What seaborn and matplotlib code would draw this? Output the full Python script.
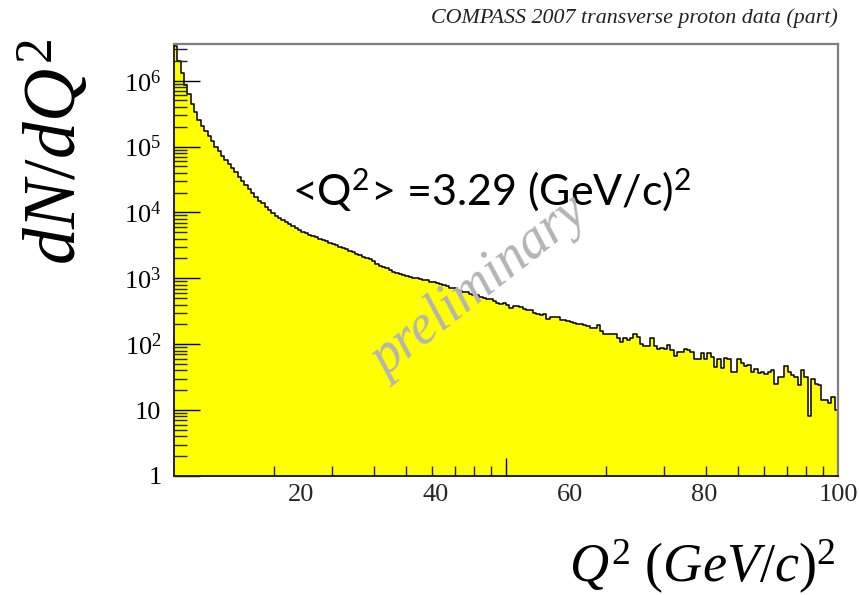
import numpy as np
import pandas as pd
import matplotlib
matplotlib.use("Agg")
import matplotlib.pyplot as plt
from matplotlib.ticker import FixedLocator, NullFormatter
import seaborn as sns

# ---------------- data ----------------
q2_min, q2_max, n_bins = 1.0, 100.0, 198          # 0.5 (GeV/c)^2 bins
counts = [
    # 1 - 14
    3390000, 1995000, 1288000, 871000, 617000, 437000, 331000, 251000, 204000, 170000,
    145000, 120000, 100000, 85100, 72400, 63100, 55000, 46800, 40700, 34700,
    30200, 25700, 22400, 19500, 17400, 15100,
    # 14 - 64.5
    13800, 12300, 11000, 9770, 8910, 8320, 7590, 7080, 6610, 6170,
    5750, 5370, 5130, 4790, 4570, 4370, 4170, 3980, 3800, 3630,
    3470, 3310, 3160, 3020, 2880, 2750, 2630, 2510, 2340, 2240,
    2140, 2040, 1950, 1820, 1660, 1550, 1480, 1410, 1320, 1260,
    1200, 1175, 1120, 1096, 1047, 1023, 1000, 977, 955, 933,
    891, 871, 851, 813, 794, 759, 724, 708, 676, 646,
    631, 617, 575, 550, 550, 513, 501, 490, 490, 447,
    427, 407, 417, 389, 355, 380, 380, 363, 339, 331,
    331, 302, 288, 282, 288, 245, 263, 263, 257, 234,
    234, 224, 219, 209, 204, 200, 195, 186, 174, 178,
    195,
    # 64.5 - 100
    158, 145, 145, 145, 145, 126, 107, 123, 115, 123,
    145, 129, 100, 95, 93, 123, 95, 85, 89, 85,
    98, 81, 66, 76, 76, 85, 81, 76, 60, 59,
    74, 60, 74, 65, 45, 60, 43, 62, 59, 38,
    38, 60, 51, 47, 49, 38, 42, 37, 38, 35,
    38, 40, 25, 32, 32, 46, 38, 34, 32, 24,
    40, 32, 8, 30, 25, 24, 14, 14, 13, 16,
    10,
]
y_ticks = [1, 10, 100, 1000, 10000, 100000, 1000000]
y_tick_labels = ["1", "10", r"$\mathregular{10^{2}}$", r"$\mathregular{10^{3}}$",
                 r"$\mathregular{10^{4}}$", r"$\mathregular{10^{5}}$", r"$\mathregular{10^{6}}$"]
x_ticks = [20, 40, 60, 80, 100]
x_tick_labels = ["20", "40", "60", "80", "100"]
title_text = "COMPASS 2007 transverse proton data (part)"
mean_text = r"<Q$\mathregular{^{2}}$> =3.29 (GeV/c)$\mathregular{^{2}}$"
watermark = "preliminary"

edges = [float(e) for e in np.linspace(q2_min, q2_max, n_bins + 1)]
centers = [0.5 * (edges[i] + edges[i + 1]) for i in range(n_bins)]
df = pd.DataFrame({"Q2": centers, "N": counts})

# ---------------- style ----------------
sns.set_theme(style="white")
plt.rcParams["font.family"] = ["Liberation Serif", "DejaVu Serif"]
plt.rcParams["mathtext.fontset"] = "custom"
plt.rcParams["mathtext.rm"] = "Liberation Serif"
plt.rcParams["mathtext.it"] = "Liberation Serif:italic"
plt.rcParams["mathtext.bf"] = "Liberation Serif:bold"
plt.rcParams["axes.axisbelow"] = False

fig = plt.figure(figsize=(8.59, 5.95), dpi=100)
fig.patch.set_facecolor("white")
ax = fig.add_axes([174 / 859, 1 - 476 / 595, (838 - 174) / 859, (476 - 44) / 595])
ax.set_axisbelow(False)

sns.histplot(data=df, x="Q2", weights="N", bins=edges, element="step", fill=True,
             color="#ffff00", alpha=1, linewidth=0, ax=ax)
sns.histplot(data=df, x="Q2", weights="N", bins=edges, element="step", fill=False,
             color="black", linewidth=1.1, ax=ax)

ax.set_yscale("log")
ax.set_xlim(q2_min, q2_max)
ax.set_ylim(1, 3.6e6)
ax.set_xlabel("")
ax.set_ylabel("")

# y axis
ax.yaxis.set_major_locator(FixedLocator(y_ticks))
ax.set_yticklabels(y_tick_labels)
minor_y = [m * 10 ** k for k in range(0, 7) for m in range(2, 10) if m * 10 ** k < 3.6e6]
ax.yaxis.set_minor_locator(FixedLocator(minor_y))
ax.yaxis.set_minor_formatter(NullFormatter())
ax.tick_params(axis="y", which="major", direction="in", length=19, width=1,
               left=True, right=False, labelsize=19, pad=9, colors="black")
ax.tick_params(axis="y", which="minor", direction="in", length=9, width=1,
               left=True, right=False, color="#222222")

# x axis: labels without marks, marks at log-like positions (as in the original)
ax.set_xticks(x_ticks)
ax.set_xticklabels(x_tick_labels)
log_marks = list(range(2, 10)) + list(range(20, 100, 10))
minor_x = [q2_min + (q2_max - q2_min) * np.log10(t) / 2 for t in log_marks]
ax.xaxis.set_minor_locator(FixedLocator(minor_x))
ax.xaxis.set_minor_formatter(NullFormatter())
ax.tick_params(axis="x", which="major", direction="in", length=0, labelsize=19,
               pad=6, bottom=True, top=False)
ax.tick_params(axis="x", which="minor", direction="in", length=7, width=1,
               bottom=True, top=False, color="#222222")
sec = ax.secondary_xaxis("bottom")
sec.set_xticks([q2_min + (q2_max - q2_min) * 0.5])
sec.set_xticklabels([""])
sec.tick_params(direction="in", length=13, width=1, color="black")
sec.set_zorder(5)

for side in ["left", "bottom"]:
    ax.spines[side].set_color("black")
    ax.spines[side].set_linewidth(1.2)
for side in ["top", "right"]:
    ax.spines[side].set_color("#7f7f7f")
    ax.spines[side].set_linewidth(1.6)

# texts
fig.text(838 / 859, 1 - 23 / 595, title_text, ha="right", va="baseline",
         style="italic", fontsize=15.8, color="#222222")
fig.text(292 / 859, 1 - 205 / 595, mean_text, ha="left", va="baseline",
         family=["Lato", "DejaVu Sans"], fontsize=31, color="black")
fig.text(480 / 859, 1 - 287 / 595, watermark, ha="center", va="center",
         rotation=38, style="italic", fontsize=40, color="#b4b4b4")
fig.text(55 / 859, 1 - 152 / 595, r"$dN/dQ^{2}$", ha="center", va="center",
         rotation=90, fontsize=53, color="black")
fig.text(835 / 859, 1 - 582 / 595, r"$Q^{2}\ (GeV/c)^{2}$", ha="right", va="baseline",
         fontsize=39, color="black")

fig.savefig("out.png", dpi=100, facecolor="white")
